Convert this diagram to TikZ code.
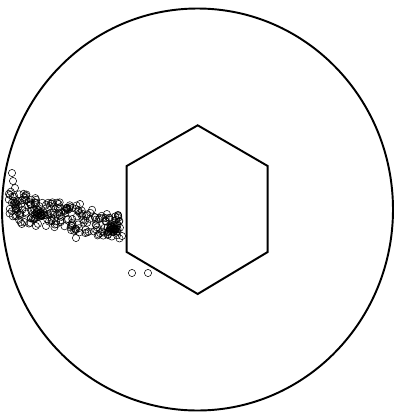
\documentclass[tikz,border=0pt]{standalone}
\begin{document}
\begin{tikzpicture}[x=0.02cm, y=-0.02cm]
    \useasboundingbox (0,0) rectangle (402,413);
    % Vessel wall
    \draw[line width=1.1pt] (197.5,209.5) ellipse [x radius=195.5, y radius=201];

    % Hexagonal obstacle
    \draw[line width=1.1pt] (197.7,125.3) -- (267.7,166) -- (267.7,252)
        -- (197.7,294) -- (126.7,252) -- (126.7,166) -- cycle;

    % Particle band
    \pgfmathsetseed{42}
    \foreach \i in {1,...,210} {
        \pgfmathsetmacro{\t}{rnd}
        \pgfmathsetmacro{\px}{8+112*\t}
        \pgfmathsetmacro{\py}{206+21*\t+(16-4*\t)*rand}
        \draw[line width=0.3pt] (\px,\py) circle [radius=3.6];
    }
    % Dense clusters
    \foreach \cx/\cy in {40/213, 113/228} {
        \foreach \i in {1,...,20} {
            \draw[line width=0.3pt] (\cx+5*rand,\cy+4*rand) circle [radius=3.6];
        }
    }
    % Stray particles
    \foreach \px/\py in {12/173, 13/181, 15/188, 10/195, 80/204, 67/209, 58/208,
        100/218, 76/238, 122/236, 132/273, 148/273} {
        \draw[line width=0.3pt] (\px,\py) circle [radius=3.6];
    }
\end{tikzpicture}
\end{document}
